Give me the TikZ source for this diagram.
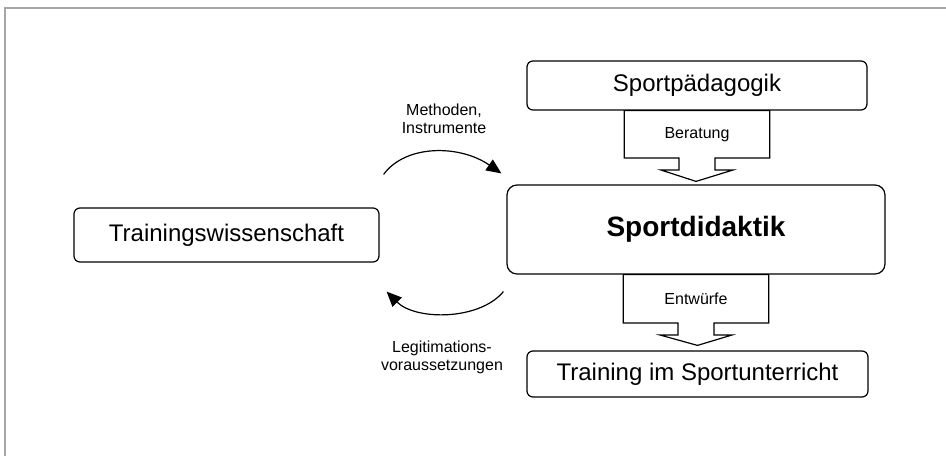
\documentclass[tikz,border=0pt]{standalone}
\usepackage{fontspec}
\setmainfont{Liberation Sans}
\usetikzlibrary{arrows.meta,positioning,calc}

\begin{document}
\begin{tikzpicture}[x=1pt, y=-1pt,
    box/.style={draw, rounded corners=6pt, line width=1.2pt, align=center, font=\fontsize{24}{28}\selectfont, inner sep=0pt},
    bigbox/.style={box, rounded corners=10pt, font=\fontsize{28}{32}\selectfont\bfseries},
    lbl/.style={align=center, font=\fontsize{16}{18}\selectfont, inner sep=0pt},
    pipe/.style={draw, line width=1.2pt, line join=miter},
    arr/.style={-{Triangle[length=15pt,width=13pt]}, line width=1.2pt}
]
\useasboundingbox (0,0) rectangle (946,456);
\draw[gray!70, line width=1.6pt] (946,8) -- (5,8) -- (5,456);

\node[box, minimum width=340pt, minimum height=49pt] (sportpaed) at (697,85.5) {Sportpädagogik};
\node[bigbox, minimum width=378pt, minimum height=89pt] (didaktik) at (696,229.5) {Sportdidaktik};
\node[box, minimum width=341pt, minimum height=46pt] (unterricht) at (697.5,374) {Training im Sportunterricht};
\node[box, minimum width=305pt, minimum height=54pt] (wissen) at (226.5,235) {Trainingswissenschaft};

\node[lbl, minimum width=145pt, minimum height=47pt, below=0pt of sportpaed] (berat) {Beratung};
\node[lbl, minimum width=145pt, minimum height=48pt, below=0pt of didaktik] (entw) {Entwürfe};

\draw[pipe] (berat.north west) -- (berat.north east) -- (berat.south east) -- ($(berat.south)+(18,0)$) -- ++(0,12) -- ++(18,0)
    -- ($(didaktik.north)+(0,-3)$) -- ($(berat.south)+(-36,12)$) -- ++(18,0) -- ($(berat.south)+(-18,0)$) -- (berat.south west) -- cycle;
\draw[pipe] (entw.north west) -- (entw.north east) -- (entw.south east) -- ($(entw.south)+(18,0)$) -- ++(0,12) -- ++(18,0)
    -- ($(unterricht.north)+(0,-5)$) -- ($(entw.south)+(-36,12)$) -- ++(18,0) -- ($(entw.south)+(-18,0)$) -- (entw.south west) -- cycle;

\draw[arr] ($(wissen.north east)+(4,-33)$) .. controls +(22,-30) and +(-42,-29) .. ($(didaktik.north west)+(-5,-11)$);
\draw[arr] ($(didaktik.south west)+(-3,17)$) .. controls +(-24,29) and +(29,29) .. ($(wissen.south east)+(7,29)$);

\node[lbl] (methoden) at (444,119) {Methoden,\\Instrumente};
\node[lbl] (legit) at (442,357.5) {Legitimations-\\voraussetzungen};
\end{tikzpicture}
\end{document}
